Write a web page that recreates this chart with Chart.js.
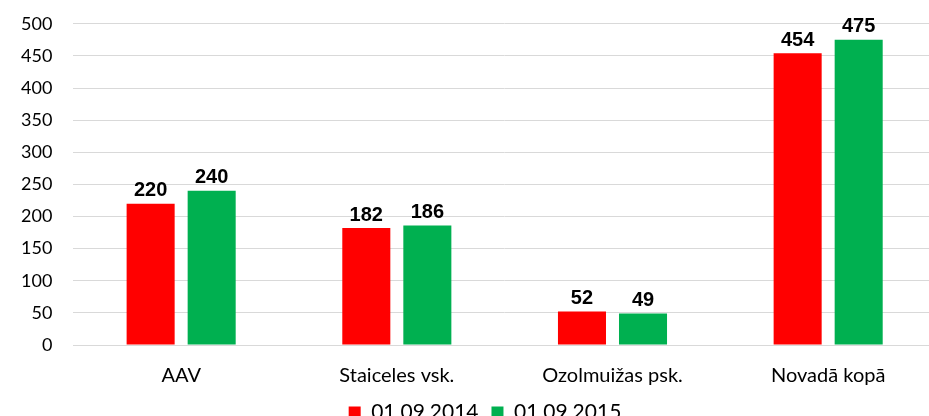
<!DOCTYPE html>
<html>
<head>
<meta charset="utf-8">
<script src="https://cdn.jsdelivr.net/npm/chart.js@4/dist/chart.umd.min.js"></script>
<style>
html,body{margin:0;padding:0;overflow:hidden;background:#fff;}
#wrap{width:929px;height:416px;overflow:hidden;position:relative;}
canvas{position:absolute;left:0;top:-8px;}
</style>
</head>
<body>
<div id="wrap"><canvas id="c" width="936" height="446"></canvas></div>
<script>
const categories = ["AAV", "Staiceles vsk.", "Ozolmuižas psk.", "Novadā kopā"];
const series2014 = [220, 182, 52, 454];
const series2015 = [240, 186, 49, 475];
const seriesNames = ["01.09.2014.", "01.09.2015"];
const yTicks = [0, 50, 100, 150, 200, 250, 300, 350, 400, 450, 500];

const valueLabels = {
  id: 'valueLabels',
  afterLayout(chart) {
    if (chart.legend) {
      chart.legend.left += 17; chart.legend.right += 17;
      chart.legend.top -= 5; chart.legend.bottom -= 5;
    }
  },
  afterDatasetsDraw(chart) {
    const ctx = chart.ctx;
    ctx.save();
    ctx.font = 'bold 20px "Liberation Sans", Arial, sans-serif';
    ctx.fillStyle = '#000';
    ctx.textAlign = 'center';
    ctx.textBaseline = 'bottom';
    chart.data.datasets.forEach((ds, i) => {
      const meta = chart.getDatasetMeta(i);
      meta.data.forEach((el, j) => {
        ctx.fillText(String(ds.data[j]), el.x, el.y - 3);
      });
    });
    ctx.restore();
  }
};

new Chart(document.getElementById('c'), {
  type: 'bar',
  data: {
    labels: categories,
    datasets: [
      { label: seriesNames[0], data: series2014, backgroundColor: '#ff0000', categoryPercentage: 0.566, barPercentage: 0.787 },
      { label: seriesNames[1], data: series2015, backgroundColor: '#00b050', categoryPercentage: 0.566, barPercentage: 0.787 }
    ]
  },
  options: {
    responsive: false,
    animation: false,
    devicePixelRatio: 1,
    layout: { padding: { top: 0, left: 0, right: 0, bottom: 0 } },
    plugins: {
      legend: {
        position: 'bottom',
        labels: {
          boxWidth: 12, boxHeight: 12, padding: 8,
          color: '#000',
          font: { family: 'Lato, "Open Sans", sans-serif', size: 21 }
        }
      },
      tooltip: { enabled: false }
    },
    scales: {
      x: {
        grid: { display: false },
        border: { display: true, color: '#d9d9d9', width: 1 },
        ticks: { color: '#000', padding: 11, font: { family: 'Lato, "Open Sans", sans-serif', size: 20 } }
      },
      y: {
        min: 0, max: 500,
        afterBuildTicks(axis) { axis.ticks = yTicks.map(v => ({ value: v })); },
        grid: { color: '#d9d9d9', drawTicks: false },
        border: { display: false },
        ticks: { color: '#000', padding: 21, font: { family: 'Lato, "Open Sans", sans-serif', size: 18 } }
      }
    }
  },
  plugins: [valueLabels]
});
</script>
</body>
</html>
